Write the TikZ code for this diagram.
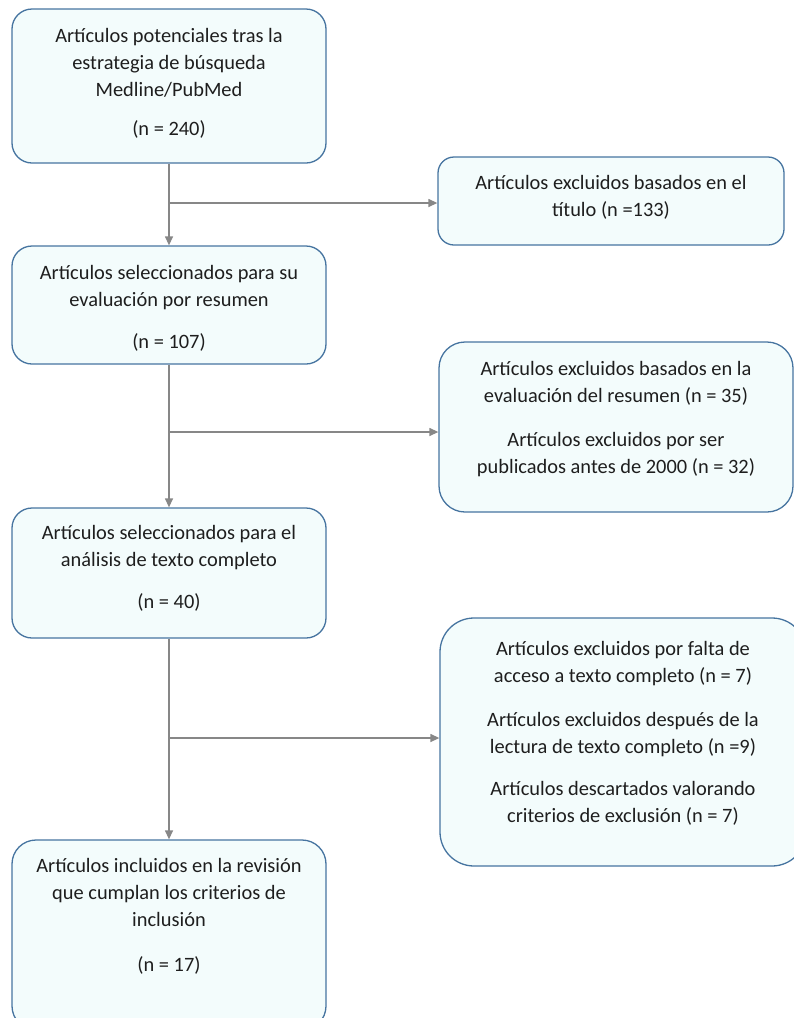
\documentclass[tikz,border=0pt]{standalone}
\usepackage{fontspec}
\setmainfont{Carlito}
\usetikzlibrary{arrows.meta}
\definecolor{boxline}{RGB}{70,116,160}
\definecolor{boxfill}{RGB}{243,252,252}
\definecolor{arrgray}{RGB}{135,135,135}
\definecolor{txt}{RGB}{30,30,30}
\tikzset{
  box/.style={draw=boxline, fill=boxfill, line width=1.3pt, inner sep=0pt},
  txtnode/.style={anchor=north, align=center, inner sep=0pt, text=txt,
    font=\fontsize{20.4}{27}\selectfont},
  arr/.style={draw=arrgray, line width=1.3pt, -{Triangle[length=9pt,width=8pt]}}
}
\newcommand{\pgap}{\\[15pt]}
\begin{document}
\begin{tikzpicture}[x=1pt,y=-1pt]
\clip (0,0) rectangle (794,1018);
% boxes
\node[box, rounded corners=20pt, minimum width=314pt, minimum height=154pt] (b1) at (169,86) {};
\node[box, rounded corners=16pt, minimum width=346pt, minimum height=88pt] (b2) at (611,201) {};
\node[box, rounded corners=20pt, minimum width=314pt, minimum height=118pt] (b3) at (169,305) {};
\node[box, rounded corners=26pt, minimum width=354pt, minimum height=170pt] (b4) at (616,427) {};
\node[box, rounded corners=20pt, minimum width=314pt, minimum height=130pt] (b5) at (169,573) {};
\node[box, rounded corners=34pt, minimum width=366pt, minimum height=248pt] (b6) at (623,742) {};
\node[box, rounded corners=24pt, minimum width=314pt, minimum height=190pt] (b7) at (169,935) {};
% texts
\node[txtnode] (t1) at (169,28) {Artículos potenciales tras la\\estrategia de búsqueda\\Medline/PubMed\\[12pt](n = 240)};
\node[txtnode] (t2) at (611,175) {Artículos excluidos basados en el\\título (n =133)};
\node[txtnode] (t3) at (169,265) {Artículos seleccionados para su\\evaluación por resumen\pgap(n = 107)};
\node[txtnode] (t4) at (616,361) {Artículos excluidos basados en la\\evaluación del resumen (n = 35)\\[17pt]Artículos excluidos por ser\\publicados antes de 2000 (n = 32)};
\node[txtnode] (t5) at (169,525) {Artículos seleccionados para el\\análisis de texto completo\pgap(n = 40)};
\node[txtnode] (t6) at (623,641) {Artículos excluidos por falta de\\acceso a texto completo (n = 7)\\[17pt]Artículos excluidos después de la\\lectura de texto completo (n =9)\\[15pt]Artículos descartados valorando\\criterios de exclusión (n = 7)};
\node[txtnode] (t7) at (169,858) {Artículos incluidos en la revisión\\que cumplan los criterios de\\inclusión\\[18pt](n = 17)};
% connectors
\coordinate (j1) at (169,203);
\coordinate (j2) at (169,432);
\coordinate (j3) at (169,738);
\draw[arr] (b1.south) -- (b3.north);
\draw[arr] (j1) -- (j1 -| b2.west);
\draw[arr] (b3.south) -- (b5.north);
\draw[arr] (j2) -- (j2 -| b4.west);
\draw[arr] (b5.south) -- (b7.north);
\draw[arr] (j3) -- (j3 -| b6.west);
\end{tikzpicture}
\end{document}
